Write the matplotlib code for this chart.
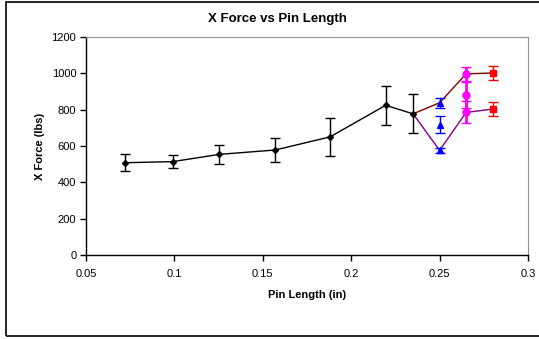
import matplotlib
matplotlib.use("Agg")
import matplotlib.pyplot as plt
from matplotlib.patches import Rectangle

plt.rcParams['font.family'] = ['Liberation Sans', 'DejaVu Sans']

# Main series (black)
x_main = [0.072, 0.099, 0.1255, 0.157, 0.188, 0.2195, 0.235]
y_main = [508, 514, 554, 578, 650, 824, 777]
e_main = [47, 34, 52, 68, 103, 108, 108]

# Upper branch line (dark red)
x_upper = [0.235, 0.25, 0.265, 0.28]
y_upper = [777, 838, 997, 1002]

# Lower branch line (purple)
x_lower = [0.235, 0.25, 0.265, 0.28]
y_lower = [777, 576, 785, 803]

# Blue triangles
x_blue = [0.25, 0.25, 0.25]
y_blue = [838, 718, 576]
e_blue = [28, 48, 14]

# Magenta circles
x_mag = [0.265, 0.265, 0.265]
y_mag = [997, 880, 785]
e_mag = [38, 70, 60]

# Red squares
x_red = [0.28, 0.28]
y_red = [1002, 803]
e_red = [37, 37]

xticks = [0.05, 0.1, 0.15, 0.2, 0.25, 0.3]
xticklabels = ['0.05', '0.1', '0.15', '0.2', '0.25', '0.3']
yticks = [0, 200, 400, 600, 800, 1000, 1200]

fig = plt.figure(figsize=(5.39, 3.39), dpi=100)
ax = fig.add_axes([86/539, 1-255/339, (528-86)/539, (255-37)/339])

# Lines
ax.plot(x_upper, y_upper, color='#800000', lw=1, zorder=2)
ax.plot(x_lower, y_lower, color='#800080', lw=1, zorder=2)
ax.errorbar(x_main, y_main, yerr=e_main, color='black', lw=1, elinewidth=1,
            capsize=3.5, capthick=1, marker='D', ms=3, zorder=3)

ax.errorbar(x_blue, y_blue, yerr=e_blue, color='#0000FF', ls='none', elinewidth=1,
            capsize=3.5, capthick=1, marker='^', ms=4.5, zorder=4)
ax.errorbar(x_mag, y_mag, yerr=e_mag, color='#FF00FF', ls='none', elinewidth=2,
            capsize=3.5, capthick=1, marker='o', ms=5, zorder=4)
ax.errorbar(x_red, y_red, yerr=e_red, color='#FF0000', ls='none', elinewidth=1,
            capsize=3.5, capthick=1, marker='s', ms=5, zorder=4)

ax.set_xlim(0.05, 0.3)
ax.set_ylim(0, 1200)
ax.set_xticks(xticks)
ax.set_xticklabels(xticklabels)
ax.set_yticks(yticks)
ax.tick_params(direction='out', length=4, width=1, labelsize=8)
ax.tick_params(axis='y', pad=3)
ax.tick_params(axis='x', pad=6)
for s in ['top', 'right']:
    ax.spines[s].set_color('#909090')
for s in ['left', 'bottom']:
    ax.spines[s].set_color('black')
    ax.spines[s].set_linewidth(1)

ax.set_xlabel('Pin Length (in)', fontsize=8, fontweight='bold', labelpad=8)
ax.set_ylabel('X Force (lbs)', fontsize=8, fontweight='bold', labelpad=5)

fig.text(277/539, 1-19/339, 'X Force vs Pin Length', ha='center', va='center',
         fontsize=9.5, fontweight='bold')

# Outer chart frame
fig.patches.append(Rectangle((6/539, 1-336/339), 1.0, (336-2)/339,
                             transform=fig.transFigure, fill=False,
                             edgecolor='black', lw=1.2, zorder=0))

fig.savefig('out.png', dpi=100)
